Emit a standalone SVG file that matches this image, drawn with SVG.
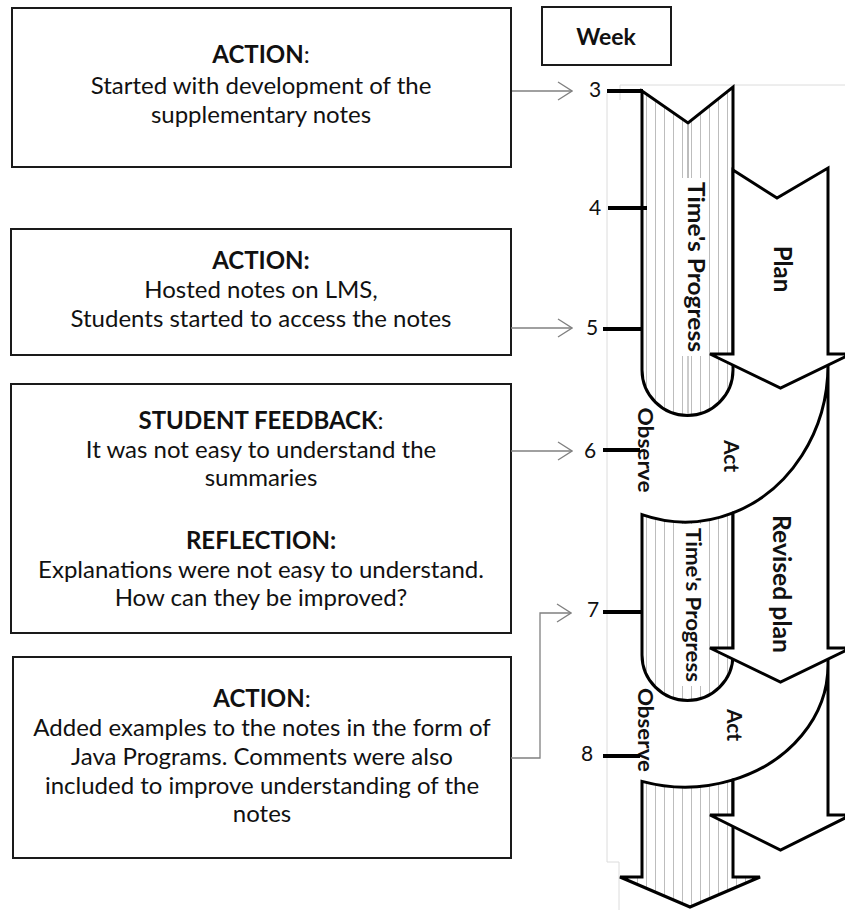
<svg xmlns="http://www.w3.org/2000/svg" width="845" height="910" viewBox="0 0 845 910">
  <defs>
    <style>
      .box { fill: #ffffff; stroke: #1a1a1a; stroke-width: 2; }
      .txt { font-family: Lato, "Open Sans", sans-serif; font-size: 24px; fill: #111; text-anchor: middle; }
      .b { font-weight: bold; }
      .r { font-weight: normal; }
      .wk { font-family: Lato, "Open Sans", sans-serif; font-size: 21px; fill: #111; text-anchor: middle; }
      .tick { stroke: #000; stroke-width: 4; }
      .conn { fill: none; stroke: #808080; stroke-width: 1.3; }
      .shape { stroke: #000; stroke-width: 3; stroke-linejoin: miter; }
      .white { fill: #ffffff; }
      .striped { fill: url(#stripes); }
      .vlab { font-family: Lato, "Open Sans", sans-serif; font-weight: bold; fill: #111; text-anchor: middle; }
      .frame { fill: none; stroke: #dcdcdc; stroke-width: 1; }
    </style>
    <pattern id="stripes" patternUnits="userSpaceOnUse" x="642" y="0" width="9" height="10">
      <rect width="9" height="10" fill="#ffffff"/>
      <line x1="4.5" y1="0" x2="4.5" y2="10" stroke="#bdbdbd" stroke-width="1"/>
    </pattern>
    <marker id="open" viewBox="0 0 16 20" refX="15" refY="10" markerWidth="16" markerHeight="20" orient="auto" markerUnits="userSpaceOnUse">
      <path d="M1,1 L15,10 L1,19" fill="none" stroke="#808080" stroke-width="1.3"/>
    </marker>
  </defs>

  <rect width="845" height="910" fill="#ffffff"/>

  <!-- text boxes -->
  <g id="box-action-1">
    <rect class="box" x="12" y="8" width="499" height="159"/>
    <text class="txt" x="261" y="63"><tspan class="b">ACTION</tspan><tspan class="r">:</tspan></text>
    <text class="txt" x="261" y="94">Started with development of the</text>
    <text class="txt" x="261" y="123">supplementary notes</text>
  </g>

  <g id="box-action-2">
    <rect class="box" x="11" y="229" width="500" height="126"/>
    <text class="txt b" x="261" y="269">ACTION:</text>
    <text class="txt" x="261" y="298">Hosted notes on LMS,</text>
    <text class="txt" x="261" y="327">Students started to access the notes</text>
  </g>

  <g id="box-feedback">
    <rect class="box" x="11" y="384" width="500" height="249"/>
    <text class="txt" x="261" y="429"><tspan class="b">STUDENT FEEDBACK</tspan><tspan class="r">:</tspan></text>
    <text class="txt" x="261" y="458">It was not easy to understand the</text>
    <text class="txt" x="261" y="486">summaries</text>
    <text class="txt b" x="261" y="549">REFLECTION:</text>
    <text class="txt" x="261" y="578">Explanations were not easy to understand.</text>
    <text class="txt" x="261" y="606">How can they be improved?</text>
  </g>

  <g id="box-action-3">
    <rect class="box" x="13" y="657" width="498" height="201"/>
    <text class="txt" x="262" y="707"><tspan class="b">ACTION</tspan><tspan class="r">:</tspan></text>
    <text class="txt" x="262" y="736">Added examples to the notes in the form of</text>
    <text class="txt" x="262" y="765">Java Programs. Comments were also</text>
    <text class="txt" x="262" y="794">included to improve understanding of the</text>
    <text class="txt" x="262" y="822">notes</text>
  </g>

  <g id="week-header">
    <rect class="box" x="542" y="7" width="129" height="58"/>
    <text class="txt b" x="606" y="45" style="font-size:23px">Week</text>
  </g>

  <!-- faint frame of the cycle panel -->
  <path class="frame" d="M620,100 L620,85 L845,85 M607,93 L607,862 L619,862 L619,910"/>

  <!-- action research cycle -->
  <g id="cycle">
    <!-- third time arrow and final plan arrow -->
    <path id="time-3" class="shape striped" d="M642,781.4 A143,122 0 0 0 733,779.9 L733,877 L760,877 L690,907 L620,877 L642,877 Z"/>
    <path id="plan-3" class="shape white" d="M733,779.9 L733,815 L710,815 L780.5,850 L851,815 L828,815 L828,656 L828,665 A143,122 0 0 1 733,779.9 Z"/>

    <!-- second time arrow and revised plan -->
    <path id="time-2" class="shape striped" d="M642,514.7 A143,157 0 0 0 733,512.9 L733,655 A45.5,45.5 0 0 1 642,655 Z"/>
    <rect x="679" y="524" width="25" height="162" fill="#ffffff"/>
    <text class="vlab" transform="translate(686,605) rotate(90)" style="font-size:21px" textLength="154" lengthAdjust="spacingAndGlyphs">Time's Progress</text>
    <path id="revised-plan" class="shape white" d="M733,512.9 L733,648 L710,648 L780.5,682 L851,648 L828,648 L828,361 L828,365 A143,157 0 0 1 733,512.9 Z"/>
    <text class="vlab" transform="translate(773,584) rotate(90)" style="font-size:24px" textLength="138" lengthAdjust="spacingAndGlyphs">Revised plan</text>

    <!-- first time arrow and plan -->
    <path id="time-1" class="shape striped" d="M642,91 L688,123 L733,87 L733,370 A45.5,45.5 0 0 1 642,370 Z"/>
    <rect x="680" y="178" width="25" height="178" fill="#ffffff"/>
    <line x1="688" y1="124" x2="688" y2="178" stroke="#7a7a7a" stroke-width="1"/>
    <line x1="688" y1="356" x2="688" y2="414" stroke="#9a9a9a" stroke-width="1"/>
    <text class="vlab" transform="translate(688,267) rotate(90)" style="font-size:22px" textLength="170" lengthAdjust="spacingAndGlyphs">Time's Progress</text>
    <path id="plan" class="shape white" d="M733,170 L777,198 L828,168 L828,354 L851,354 L780.5,388 L710,354 L733,354 Z"/>
    <text class="vlab" transform="translate(774,269) rotate(90)" style="font-size:24px">Plan</text>

    <!-- act / observe labels -->
    <text class="vlab" transform="translate(724,456) rotate(90)" style="font-size:21px">Act</text>
    <text class="vlab" transform="translate(638,450) rotate(90)" style="font-size:20px" textLength="85" lengthAdjust="spacingAndGlyphs">Observe</text>
    <text class="vlab" transform="translate(727,725) rotate(90)" style="font-size:21px">Act</text>
    <text class="vlab" transform="translate(638,730) rotate(90)" style="font-size:20px" textLength="84" lengthAdjust="spacingAndGlyphs">Observe</text>
  </g>

  <!-- week ticks and numbers -->
  <g id="weeks">
    <line class="tick" x1="607" y1="91" x2="643" y2="91"/>
    <line class="tick" x1="608" y1="208" x2="647" y2="208"/>
    <line class="tick" x1="603" y1="329" x2="642" y2="329"/>
    <line class="tick" x1="603" y1="450" x2="640" y2="450"/>
    <line class="tick" x1="603" y1="612" x2="643" y2="612"/>
    <line class="tick" x1="603" y1="756" x2="640" y2="756"/>
    <text class="wk" x="595" y="97">3</text>
    <text class="wk" x="595" y="215">4</text>
    <text class="wk" x="592" y="335">5</text>
    <text class="wk" x="590" y="458">6</text>
    <text class="wk" x="593" y="617">7</text>
    <text class="wk" x="587" y="761">8</text>
  </g>

  <!-- connectors -->
  <g id="connectors">
    <path class="conn" d="M512,91 H572" marker-end="url(#open)"/>
    <path class="conn" d="M511,328 H572" marker-end="url(#open)"/>
    <path class="conn" d="M511,451 H572" marker-end="url(#open)"/>
    <path class="conn" d="M511,758 H540 V613 H571" marker-end="url(#open)"/>
  </g>
</svg>
